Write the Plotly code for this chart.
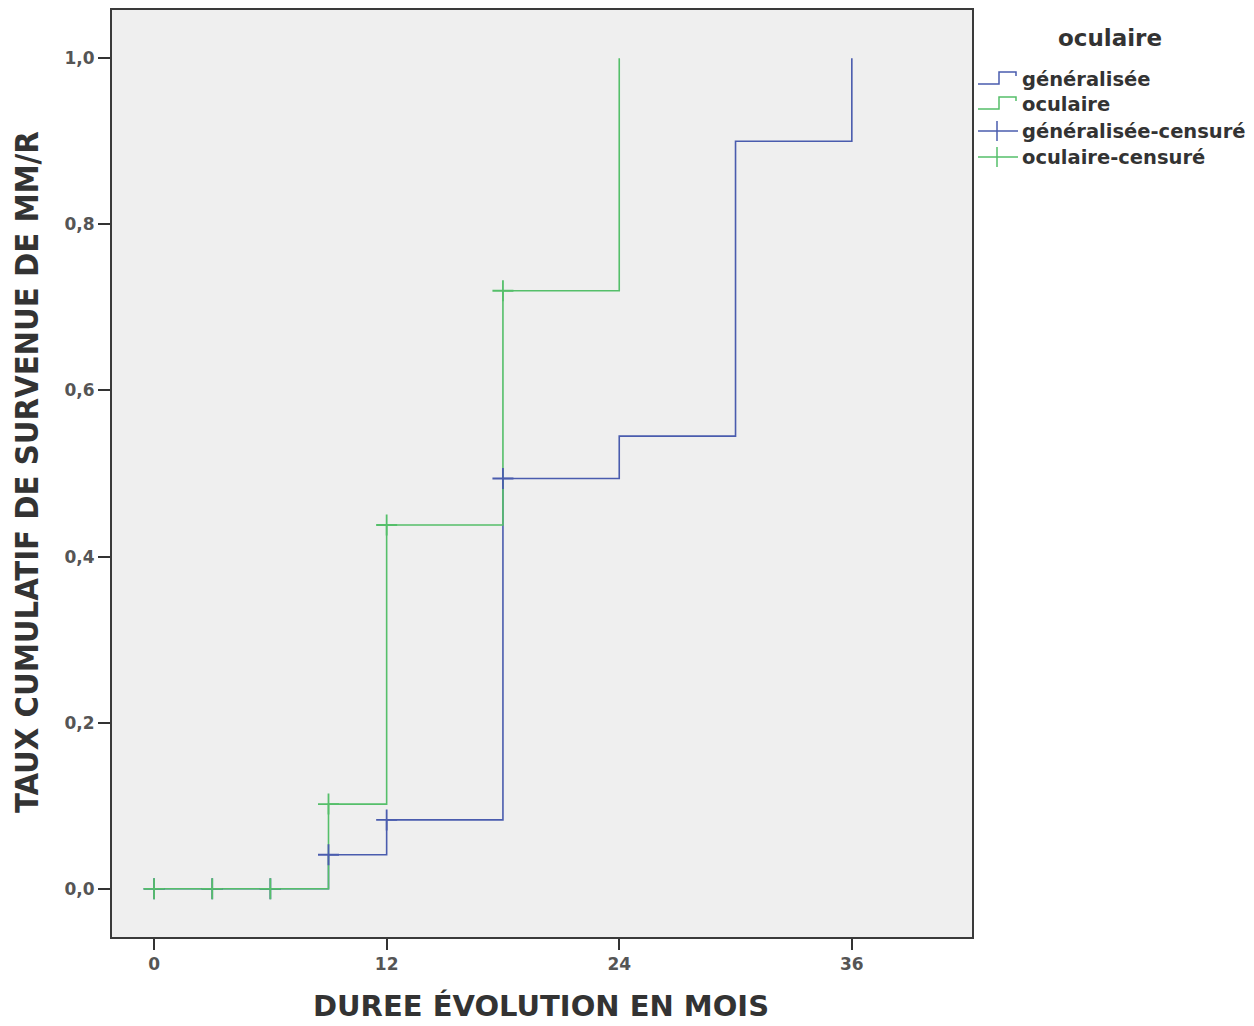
import plotly.graph_objects as go

# ---- data ----
months_gen = [0, 9, 12, 18, 24, 30, 36]
rate_gen = [0.0, 0.041, 0.083, 0.494, 0.545, 0.900, 1.0]
months_ocu = [0, 9, 12, 18, 24]
rate_ocu = [0.0, 0.102, 0.438, 0.720, 1.0]
cens_gen_x = [0, 3, 6, 9, 12, 18]
cens_gen_y = [0.0, 0.0, 0.0, 0.041, 0.083, 0.494]
cens_ocu_x = [0, 3, 6, 9, 12, 18]
cens_ocu_y = [0.0, 0.0, 0.0, 0.102, 0.438, 0.720]
x_ticks = [0, 12, 24, 36]
y_ticks = [0.0, 0.2, 0.4, 0.6, 0.8, 1.0]
x_title = "DUREE ÉVOLUTION EN MOIS"
y_title = "TAUX CUMULATIF DE SURVENUE DE MM/R"
legend_title = "oculaire"
legend_labels = ["généralisée", "oculaire", "généralisée-censuré", "oculaire-censuré"]

BLUE = "#4a5cae"
GREEN = "#55bf6a"
W, H = 1254, 1026
L, R, T, B = 112, 972, 10, 937

fig = go.Figure()
fig.add_trace(go.Scatter(x=months_gen, y=rate_gen, mode="lines", line=dict(color=BLUE, width=1.6, shape="hv"), showlegend=False))
fig.add_trace(go.Scatter(x=months_ocu, y=rate_ocu, mode="lines", line=dict(color=GREEN, width=1.6, shape="hv"), showlegend=False))
fig.add_trace(go.Scatter(x=cens_gen_x, y=cens_gen_y, mode="markers",
                         marker=dict(symbol="cross-thin", size=15, line=dict(color=BLUE, width=1.8)), showlegend=False))
fig.add_trace(go.Scatter(x=cens_ocu_x, y=cens_ocu_y, mode="markers",
                         marker=dict(symbol="cross-thin", size=15, line=dict(color=GREEN, width=1.8)), showlegend=False))

def px(x):
    return (x - L) / (R - L)

def py(y):
    return (B - y) / (B - T)

shapes = []
annotations = []
annotations.append(dict(text=f"<b>{legend_title}</b>", x=px(1110), y=py(38), xref="paper", yref="paper",
                        showarrow=False, xanchor="center", yanchor="middle",
                        font=dict(family="DejaVu Sans", size=23, color="#333333")))
rows = [79, 104, 131, 157]
colors = [BLUE, GREEN, BLUE, GREEN]
for i, (lab, yy, c) in enumerate(zip(legend_labels, rows, colors)):
    if i < 2:
        path = (f"M {px(978)},{py(yy+5)} L {px(999)},{py(yy+5)} L {px(999)},{py(yy-7)} "
                f"L {px(1016)},{py(yy-7)} L {px(1016)},{py(yy-3)}")
        shapes.append(dict(type="path", path=path, xref="paper", yref="paper",
                           line=dict(color=c, width=1.5)))
    else:
        shapes.append(dict(type="line", x0=px(978), x1=px(1018), y0=py(yy), y1=py(yy),
                           xref="paper", yref="paper", line=dict(color=c, width=1.5)))
        shapes.append(dict(type="line", x0=px(997), x1=px(997), y0=py(yy - 10), y1=py(yy + 10),
                           xref="paper", yref="paper", line=dict(color=c, width=1.5)))
    annotations.append(dict(text=f"<b>{lab}</b>", x=px(1020), y=py(yy), xref="paper", yref="paper",
                            showarrow=False, xanchor="left", yanchor="middle",
                            font=dict(family="DejaVu Sans", size=19.5, color="#333333")))

# axis titles
annotations.append(dict(text=f"<b>{x_title}</b>", x=px(541), y=py(1006), xref="paper", yref="paper",
                        showarrow=False, xanchor="center", yanchor="middle",
                        font=dict(family="DejaVu Sans", size=29, color="#333333")))
annotations.append(dict(text=f"<b>{y_title}</b>", x=px(27), y=py(472), xref="paper", yref="paper",
                        showarrow=False, xanchor="center", yanchor="middle", textangle=-90,
                        font=dict(family="DejaVu Sans Condensed", size=32.5, color="#333333")))

fig.update_layout(
    width=W, height=H,
    margin=dict(l=L, r=W - R, t=T, b=H - B, autoexpand=False),
    paper_bgcolor="white", plot_bgcolor="#efefef",
    separators=", ",
    shapes=shapes, annotations=annotations,
    font=dict(family="DejaVu Sans", color="#333333"),
)
fig.update_xaxes(range=[-2.17, 42.2], tickvals=x_ticks, ticks="outside", ticklen=11, tickwidth=2,
                 tickcolor="#333333", showgrid=False, zeroline=False, showline=True, linewidth=2,
                 linecolor="#3a3a3a", mirror=True, automargin=False,
                 tickfont=dict(size=17, color="#555555", weight="bold"))
fig.update_yaxes(range=[-0.058, 1.058], tickvals=y_ticks, tickformat=".1f", ticks="outside", ticklen=12,
                 tickwidth=2, tickcolor="#333333", showgrid=False, zeroline=False, showline=True,
                 linewidth=2, linecolor="#3a3a3a", mirror=True, automargin=False,
                 tickfont=dict(size=17, color="#555555", weight="bold"))

fig.write_html("out.html")
